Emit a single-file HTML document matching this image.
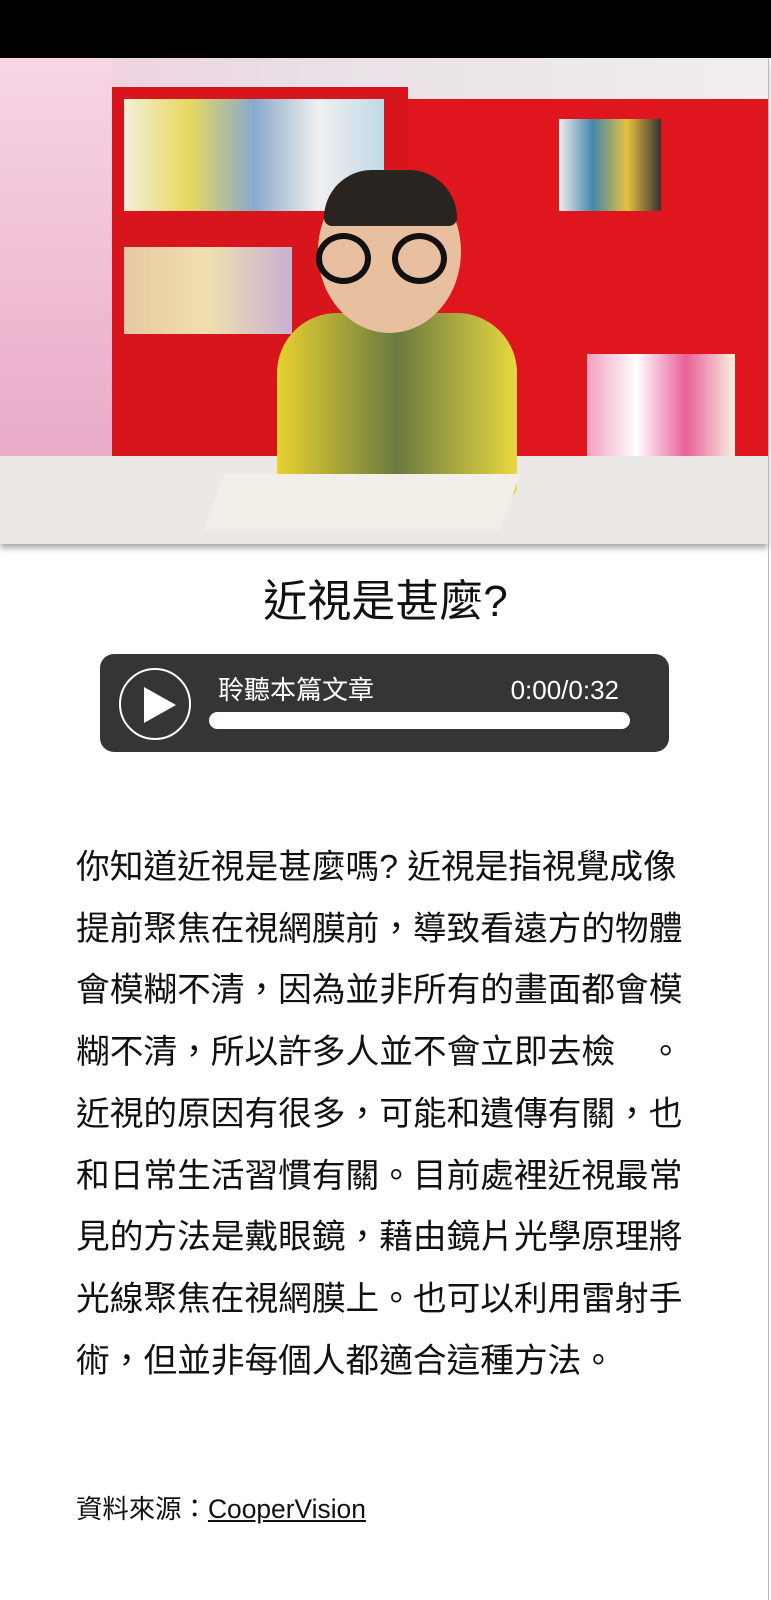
<!DOCTYPE html>
<html><head><meta charset="utf-8"><style>
body{margin:0;width:771px;height:1600px;background:#fff;position:relative;overflow:hidden;font-family:"Liberation Sans","Noto Sans CJK TC",sans-serif;color:#111}
.a{position:absolute}
</style></head><body>
<div class="a" style="left:0;top:0;width:771px;height:58px;background:#000"></div>
<div class="a" style="left:0;top:58px;width:768px;height:486px;overflow:hidden;background:linear-gradient(90deg,#f4c6d8 0,#f0d2e0 14%,#e8e0e6 40%,#f2eef0 100%);box-shadow:0 4px 6px rgba(0,0,0,.35)">
 <div class="a" style="left:0;top:0;width:112px;height:410px;background:linear-gradient(180deg,#f7d6e6,#e9a9c6)"></div>
 <div class="a" style="left:112px;top:29px;width:296px;height:378px;background:#d8141c"></div>
 <div class="a" style="left:408px;top:41px;width:362px;height:367px;background:#e0161e"></div>
 <div class="a" style="left:124px;top:41px;width:260px;height:112px;background:linear-gradient(90deg,#f3efd8,#e8d860,#8ac,#f0f0f0,#c0d8e8)"></div>
 <div class="a" style="left:124px;top:189px;width:168px;height:87px;background:linear-gradient(90deg,#e8c8a0,#f0e0b0,#c8b0d0)"></div>
 <div class="a" style="left:559px;top:61px;width:102px;height:92px;background:linear-gradient(90deg,#eee,#48a,#e8c040,#333)"></div>
 <div class="a" style="left:587px;top:296px;width:148px;height:102px;background:linear-gradient(90deg,#f0a0c0,#fff,#e8609a,#f8f0e0)"></div>
 <div class="a" style="left:0;top:398px;width:768px;height:88px;background:#ebe8e6"></div>
 <div class="a" style="left:277px;top:255px;width:240px;height:184px;border-radius:60px 60px 10px 10px;background:linear-gradient(90deg,#e8d230,#6a7a40,#e8d840)"></div>
 <div class="a" style="left:318px;top:112px;width:143px;height:163px;border-radius:50%;background:#e8c0a0"></div>
 <div class="a" style="left:324px;top:112px;width:133px;height:56px;border-radius:60px 60px 10px 10px;background:#2a2420"></div>
 <div class="a" style="left:316px;top:175px;width:55px;height:51px;border:6px solid #111;border-radius:50%;box-sizing:border-box"></div>
 <div class="a" style="left:392px;top:175px;width:55px;height:51px;border:6px solid #111;border-radius:50%;box-sizing:border-box"></div>
 <div class="a" style="left:214px;top:416px;width:296px;height:56px;background:#f2efe8;transform:skewX(-20deg)"></div>
</div>
<div class="a" style="left:768px;top:58px;width:1px;height:1542px;background:#bbb"></div>
<div class="a" style="left:0;width:771px;top:574px;text-align:center;font-size:44px;line-height:56px">近視是甚麼?</div>
<div class="a" style="left:100px;top:654px;width:569px;height:98px;border-radius:14px;background:#353535">
 <div class="a" style="left:19px;top:14px;width:72px;height:72px;border:2px solid #fff;border-radius:50%;box-sizing:border-box">
  <div class="a" style="left:23px;top:17px;width:0;height:0;border-left:32px solid #fff;border-top:18px solid transparent;border-bottom:18px solid transparent"></div>
 </div>
 <div class="a" style="left:118px;top:20px;color:#fff;font-size:26px;line-height:32px">聆聽本篇文章</div>
 <div class="a" style="right:50px;top:20px;color:#fff;font-size:26px;line-height:32px">0:00/0:32</div>
 <div class="a" style="left:109px;top:58px;width:421px;height:17px;border-radius:9px;background:#fff"></div>
</div>
<div class="a" style="left:76px;top:837px;width:680px;font-size:33.7px;line-height:61.7px;white-space:nowrap">你知道近視是甚麼嗎? 近視是指視覺成像<br>提前聚焦在視網膜前，導致看遠方的物體<br>會模糊不清，因為並非所有的畫面都會模<br>糊不清，所以許多人並不會立即去檢　。<br>近視的原因有很多，可能和遺傳有關，也<br>和日常生活習慣有關。目前處裡近視最常<br>見的方法是戴眼鏡，藉由鏡片光學原理將<br>光線聚焦在視網膜上。也可以利用雷射手<br>術，但並非每個人都適合這種方法。</div>
<div class="a" style="left:76px;top:1492px;font-size:26.4px;line-height:34px">資料來源：<span style="text-decoration:underline">CooperVision</span></div>
</body></html>
